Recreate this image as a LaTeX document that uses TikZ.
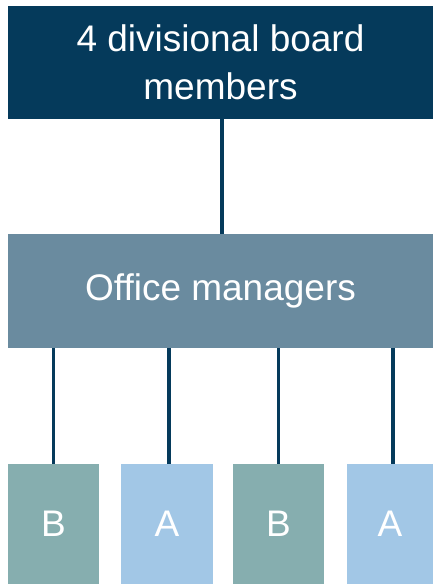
\documentclass[tikz,border=0pt]{standalone}
\usepackage{fontspec}
\setmainfont{Liberation Sans}
\usepackage{tikz}
\usetikzlibrary{positioning}
\usepackage{xcolor}

\definecolor{boardnavy}{HTML}{053A5B}
\definecolor{officeslate}{HTML}{6A8B9F}
\definecolor{teamB}{HTML}{86AEAF}
\definecolor{teamA}{HTML}{A2C7E6}

\begin{document}
\begin{tikzpicture}[x=1pt, y=-1pt,
 box/.style={inner sep=0pt, text=white, align=center, font=\fontsize{37}{48}\selectfont},
 link/.style={boardnavy, line width=3.5pt}]

\useasboundingbox (0,0) rectangle (433,584);

\node[box, fill=boardnavy, minimum width=425pt, minimum height=113pt] (board) at (220.5,62.5) {4 divisional board\\members};

\node[box, fill=officeslate, minimum width=425pt, minimum height=114pt] (office) at (220.5,291) {Office managers};

\node[box, fill=teamB, minimum width=91pt, minimum height=120pt] (b1) at (53.5,524) {B};
\node[box, fill=teamA, minimum width=92pt, minimum height=120pt] (a1) at (167,524) {A};
\node[box, fill=teamB, minimum width=91pt, minimum height=120pt] (b2) at (278.5,524) {B};
\node[box, fill=teamA, minimum width=86pt, minimum height=120pt] (a2) at (390,524) {A};


\draw[link] (board.south -| 222,0) -- (office.north -| 222,0);

\draw[link] (office.south -| b1.north) -- (b1.north);
\draw[link] (office.south -| 169,0) -- (a1.north -| 169,0);
\draw[link] (office.south -| b2.north) -- (b2.north);
\draw[link] (office.south -| 393,0) -- (a2.north -| 393,0);

\end{tikzpicture}
\end{document}
